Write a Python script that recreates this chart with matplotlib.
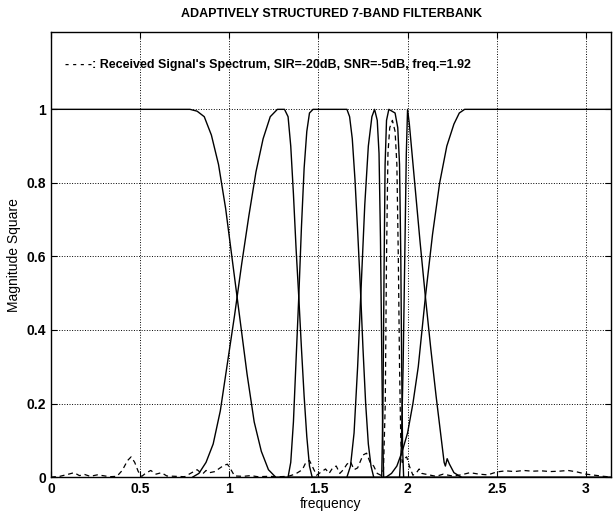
import numpy as np
import matplotlib
matplotlib.use("Agg")
from matplotlib import pyplot as plt

# Filter responses (frequency, magnitude square)
lp_f = [0.0, 0.78, 0.82, 0.86, 0.90, 0.94, 0.98, 1.02, 1.06, 1.10, 1.14, 1.18, 1.22, 1.26, np.pi]
lp_m = [1.0, 1.0, 0.995, 0.98, 0.93, 0.85, 0.73, 0.58, 0.43, 0.28, 0.15, 0.07, 0.02, 0.0, 0.0]

b2_f = [0.795, 0.83, 0.87, 0.91, 0.95, 0.99, 1.03, 1.07, 1.11, 1.15, 1.19, 1.23, 1.27, 1.31,
        1.33, 1.345, 1.36, 1.375, 1.39, 1.405, 1.42, 1.435, 1.45, 1.465]
b2_m = [0.0, 0.01, 0.04, 0.09, 0.18, 0.31, 0.44, 0.58, 0.71, 0.83, 0.92, 0.98, 1.0, 1.0,
        0.98, 0.90, 0.77, 0.62, 0.49, 0.35, 0.22, 0.11, 0.03, 0.0]

b3_f = [1.33, 1.345, 1.36, 1.375, 1.39, 1.405, 1.42, 1.435, 1.45, 1.47, 1.66, 1.675, 1.69,
        1.705, 1.72, 1.735, 1.75, 1.765, 1.78, 1.795, 1.81]
b3_m = [0.0, 0.04, 0.15, 0.32, 0.49, 0.68, 0.84, 0.94, 0.99, 1.0, 1.0, 0.98, 0.92,
        0.81, 0.67, 0.52, 0.35, 0.20, 0.09, 0.03, 0.0]

b4_f = [1.66, 1.68, 1.70, 1.72, 1.74, 1.76, 1.78, 1.80, 1.815, 1.83, 1.84, 1.848, 1.855, 1.861, 1.866]
b4_m = [0.0, 0.03, 0.12, 0.30, 0.52, 0.74, 0.90, 0.98, 1.0, 0.97, 0.88, 0.65, 0.35, 0.10, 0.0]

b5_f = [1.855, 1.862, 1.868, 1.874, 1.882, 1.895, 1.93, 1.945, 1.955, 1.962, 1.967, 1.972, 1.978]
b5_m = [0.0, 0.20, 0.55, 0.85, 0.97, 1.0, 0.99, 0.95, 0.85, 0.60, 0.30, 0.08, 0.0]

b6_f = [1.955, 1.965, 1.975, 1.985, 1.993, 2.0, 2.01, 2.04, 2.07, 2.10, 2.13, 2.16, 2.19,
        2.205, 2.212, 2.222, 2.235, 2.26, 2.30]
b6_m = [0.0, 0.08, 0.30, 0.62, 0.88, 1.0, 0.96, 0.80, 0.64, 0.49, 0.35, 0.22, 0.10,
        0.04, 0.03, 0.05, 0.035, 0.012, 0.0]

hp_f = [1.88, 1.91, 1.94, 1.97, 2.0, 2.03, 2.06, 2.10, 2.14, 2.18, 2.22, 2.26, 2.29, 2.32, np.pi]
hp_m = [0.0, 0.01, 0.03, 0.07, 0.12, 0.20, 0.30, 0.49, 0.66, 0.80, 0.90, 0.96, 0.99, 1.0, 1.0]

bands = [(lp_f, lp_m), (b2_f, b2_m), (b3_f, b3_m), (b4_f, b4_m),
         (b5_f, b5_m), (b6_f, b6_m), (hp_f, hp_m)]

# Received signal spectrum (dashed)
sig_f = [0.00, 0.05, 0.10, 0.13, 0.16, 0.19, 0.22, 0.26, 0.29, 0.33, 0.37, 0.40, 0.43, 0.45,
         0.47, 0.49, 0.51, 0.53, 0.56, 0.59, 0.62, 0.65, 0.70, 0.75, 0.79, 0.82, 0.85, 0.87,
         0.89, 0.92, 0.94, 0.97, 0.99, 1.01, 1.03, 1.08, 1.12, 1.16, 1.22, 1.28, 1.33, 1.37,
         1.41, 1.43, 1.45, 1.47, 1.49, 1.51, 1.54, 1.56, 1.58, 1.60, 1.62, 1.64, 1.66, 1.68,
         1.70, 1.72, 1.75, 1.77, 1.79, 1.81, 1.83, 1.85, 1.865, 1.875, 1.882, 1.89, 1.90,
         1.915, 1.93, 1.94, 1.948, 1.955, 1.962, 1.97, 1.98, 1.995, 2.01, 2.03, 2.05, 2.065,
         2.08, 2.12, 2.16, 2.20, 2.25, 2.30, 2.35, 2.40, 2.45, 2.50, 2.55, 2.60, 2.65, 2.70,
         2.75, 2.80, 2.85, 2.90, 2.95, 3.00, 3.05, 3.10, np.pi]
sig_m = [0.0, 0.002, 0.008, 0.012, 0.004, 0.007, 0.002, 0.006, 0.004, 0.001, 0.002, 0.018,
         0.045, 0.055, 0.04, 0.015, 0.002, 0.01, 0.018, 0.008, 0.012, 0.003, 0.002, 0.001,
         0.012, 0.02, 0.008, 0.018, 0.012, 0.015, 0.022, 0.032, 0.035, 0.02, 0.003, 0.002,
         0.004, 0.001, 0.002, 0.001, 0.002, 0.008, 0.02, 0.04, 0.045, 0.025, 0.005, 0.012,
         0.022, 0.01, 0.025, 0.03, 0.01, 0.02, 0.035, 0.042, 0.02, 0.025, 0.06, 0.065, 0.04,
         0.03, 0.01, 0.005, 0.02, 0.2, 0.6, 0.88, 0.95, 0.97, 0.94, 0.85, 0.6, 0.3, 0.1,
         0.04, 0.05, 0.055, 0.03, 0.005, 0.012, 0.022, 0.01, 0.006, 0.002, 0.008, 0.003,
         0.006, 0.012, 0.008, 0.006, 0.014, 0.017, 0.015, 0.018, 0.016, 0.017, 0.015, 0.016,
         0.018, 0.014, 0.008, 0.005, 0.002, 0.0]

xticks = [0, 0.5, 1, 1.5, 2, 2.5, 3]
yticks = [0, 0.2, 0.4, 0.6, 0.8, 1]

plt.rcParams['font.family'] = ['Liberation Sans', 'DejaVu Sans']
plt.rcParams['font.weight'] = 'bold'

fig = plt.figure(figsize=(6.13, 5.18), dpi=100)
ax = fig.add_axes([0.083, 0.079, 0.914, 0.859])

for f, m in bands:
    ax.plot(f, m, color='black', lw=1.0)
ax.plot(sig_f, sig_m, color='black', lw=0.9, linestyle=(0, (4, 3)))

ax.set_xlim(0, np.pi)
ax.set_ylim(0, 1.21)
ax.set_xticks(xticks)
ax.set_xticklabels(['0', '0.5', '1', '1.5', '2', '2.5', '3'])
ax.set_yticks(yticks)
ax.set_yticklabels(['0', '0.2', '0.4', '0.6', '0.8', '1'])
ax.tick_params(direction='in', top=True, right=True, labelsize=10, length=4)
ax.grid(True, linestyle=':', color='black', lw=0.7)
for s in ax.spines.values():
    s.set_linewidth(1.0)

ax.set_title('ADAPTIVELY STRUCTURED 7-BAND FILTERBANK', fontsize=9, fontweight='bold', pad=11)
ax.set_xlabel('frequency', fontsize=10, labelpad=1)
ax.set_ylabel('Magnitude Square', fontsize=10, labelpad=4)
ax.text(0.08, 1.12, "- - - -: Received Signal's Spectrum, SIR=-20dB, SNR=-5dB, freq.=1.92",
        fontsize=9, va='center')

fig.savefig('out.png', dpi=100)
